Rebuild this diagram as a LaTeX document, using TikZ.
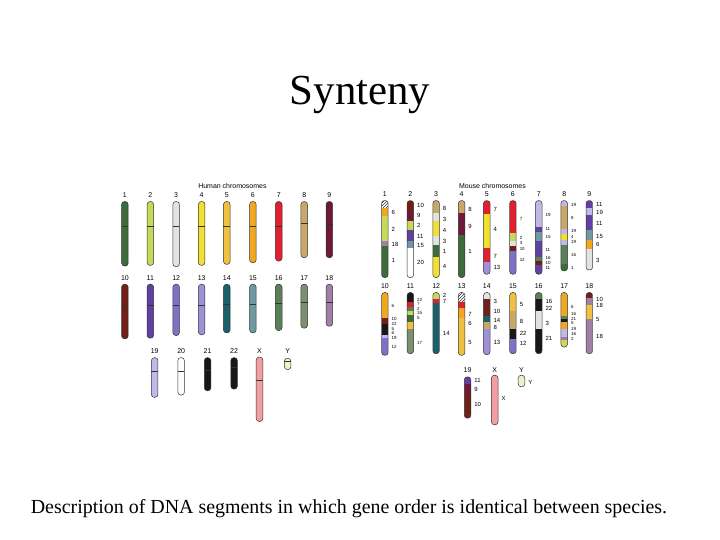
\documentclass[tikz,border=0pt]{standalone}
\usepackage{fontspec}
\setmainfont{Liberation Serif}
\newfontfamily\labfont{Liberation Sans}
\usetikzlibrary{patterns}
\definecolor{c1}{HTML}{3D6B3A}\definecolor{c2}{HTML}{C8D85A}\definecolor{c3}{HTML}{E0E4E0}
\definecolor{c4}{HTML}{F2E030}\definecolor{c5}{HTML}{F0C040}\definecolor{c6}{HTML}{F0A820}
\definecolor{c7}{HTML}{E02030}\definecolor{c8}{HTML}{C8A868}\definecolor{c9}{HTML}{70183A}
\definecolor{c10}{HTML}{702018}\definecolor{c11}{HTML}{6040A0}\definecolor{c12}{HTML}{8070C8}
\definecolor{c13}{HTML}{A090D8}\definecolor{c14}{HTML}{1A6068}\definecolor{c15}{HTML}{7098A0}
\definecolor{c16}{HTML}{5A8058}\definecolor{c17}{HTML}{7A9070}\definecolor{c18}{HTML}{A080A8}
\definecolor{c19}{HTML}{C0B8E8}\definecolor{c20}{HTML}{FFFFFF}\definecolor{c21}{HTML}{181818}
\definecolor{cX}{HTML}{F0A0A0}\definecolor{cY}{HTML}{F0F0C8}
\def\lsz{6}
\tikzset{lab/.style={font=\labfont\fontsize{\lsz}{\lsz}\selectfont,inner sep=0pt,anchor=west},
 num/.style={font=\labfont\fontsize{7}{8}\selectfont,inner sep=0pt},
 outl/.style={rounded corners=3pt,draw=black!80,line width=0.5pt},
 hat/.style={pattern=north east lines}}
\newcommand\hchr[5]{%
 \filldraw[outl,fill=#5] ({#1-10},#2) rectangle ({#1+10},#3);
 \draw[black!80,line width=0.9pt] ({#1-10},#4) -- ({#1+10},#4);}
\newcommand\mchr[5]{%
 \begin{scope}
 \clip[rounded corners=3pt] ({#1-10},#2) rectangle ({#1+10},#3);
 \fill[white] ({#1-10},#2) rectangle ({#1+10},#3);
 \foreach \a/\b/\c in {#4} \fill[\c] ({#1-10},\a) rectangle ({#1+10},\b);
 \end{scope}
 \draw[outl] ({#1-10},#2) rectangle ({#1+10},#3);
 \foreach \y/\t in {#5} \node[lab] at ({#1+20},\y) {\t};}
\begin{document}
\begin{tikzpicture}[x=1bp,y=-1bp]
\useasboundingbox (0,0) rectangle (720,540);
\node[font=\fontsize{43}{48}\selectfont] (title) at (360,95) {Synteny};
\node[font=\fontsize{20}{24}\selectfont] (cap) at (349,509) {Description of DNA segments in which gene order is identical between species.};
% Human
\begin{scope}[shift={(110,180)},x=1/3bp,y=-1/3bp]
\node[num] at (370,17) {Human chromosomes};
\foreach \x/\n/\e/\c/\k in {45/1/260/140/c1,122/2/258/140/c2,200/3/262/140/c3,277/4/258/140/c4,353/5/255/140/c5,432/6/250/140/c6,510/7/245/140/c7,587/8/235/130/c8,663/9/235/135/c9}{
 \node[num] at (\x,45) {\n}; \hchr{\x}{65}{\e}{\c}{\k}}
\foreach \x/\n/\e/\c/\k in {45/10/480/383/c10,122/11/478/380/c11,200/12/470/378/c12,277/13/468/378/c13,353/14/462/375/c14,432/15/462/375/c15,510/16/455/372/c16,587/17/448/370/c17,663/18/442/370/c18}{
 \node[num] at (\x,297) {\n}; \hchr{\x}{315}{\e}{\c}{\k}}
\foreach \x/\n/\t/\e/\c/\k in {135/19/537/657/580/c19,215/20/537/650/580/c20,295/21/537/637/575/c21,375/22/537/632/568/c21,452/X/535/730/607/cX,537/Y/539/573/548/cY}{
 \node[num] at (\x,517) {\n}; \hchr{\x}{\t}{\e}{\c}{\k}}
\end{scope}
% Mouse
\begin{scope}[shift={(370,180)},x=1/3bp,y=-1/3bp]
\node[num] at (370,17) {Mouse chromosomes};
\foreach \x/\n in {45/1,122/2,200/3,277/4,353/5,432/6,510/7,587/8,663/9}{\node[num] at (\x,42) {\n};}
\foreach \x/\n in {45/10,122/11,200/12,277/13,353/14,432/15,510/16,587/17,663/18}{\node[num] at (\x,322) {\n};}
\foreach \x/\n in {295/19,377/X,458/Y}{\node[num] at (\x,575) {\n};}
\mchr{45}{62}{295}{62/85/hat,85/108/c6,108/185/c2,185/200/c18,200/295/c1}{97/6,148/2,195/18,243/1}
\mchr{122}{62}{295}{62/95/c10,95/125/c9,125/150/c2,150/185/c11,185/205/c15,205/295/c20}{77/10,107/9,137/2,172/11,198/15,250/20}
\mchr{200}{62}{295}{62/100/c8,100/125/c3,125/170/c4,170/195/c3,195/232/c1,232/295/c4}{87/8,120/3,152/4,185/3,215/1,262/4}
\mchr{277}{62}{295}{62/100/c8,100/165/c9,165/295/c1}{90/8,140/9,215/1}
\mchr{353}{62}{285}{62/102/c7,102/205/c4,205/248/c7,248/285/c13}{90/7,150/4,230/7,265/13}
\def\lsz{4.5}
\mchr{432}{62}{285}{62/160/c7,160/185/c2,185/200/c3,200/215/c10,215/285/c12}{117/7,175/2,190/3,207/10,243/12}
\mchr{510}{62}{285}{62/142/c19,142/158/c11,158/185/c15,185/232/c11,232/245/c16,245/258/c10,258/285/c11}{105/19,148/11,172/15,210/11,237/16,252/10,267/11}
\mchr{587}{62}{275}{62/78/c19,78/148/c8,148/162/c19,162/180/c4,180/197/c19,197/255/c16,255/275/c1}{75/19,115/8,155/19,171/4,188/19,227/16,265/1}
\def\lsz{6}
\mchr{663}{62}{272}{62/85/c11,85/105/c19,105/152/c11,152/180/c15,180/210/c6,210/272/c3}{75/11,97/19,130/11,170/15,195/6,243/3}
\def\lsz{4.5}
\mchr{45}{340}{530}{340/418/c6,418/435/c10,435/468/c21,468/478/c19,478/530/c12}{380/6,420/10,435/22,449/5,463/6,478/19,506/12}
\mchr{122}{340}{525}{340/368/c21,368/383/c7,383/396/c16,396/408/c2,408/428/c1,428/450/c5,450/525/c17}{361/22,375/7,389/2,403/15,417/5,493/17}
\def\lsz{6}
\mchr{200}{340}{525}{340/360/c2,360/372/c7,372/525/c14}{348/2,366/7,465/14}
\mchr{277}{340}{530}{340/368/hat,368/388/c7,388/418/c6,418/530/c5}{405/7,433/6,492/5}
\mchr{353}{340}{528}{340/360/c3,360/410/c10,410/430/c14,430/450/c8,450/528/c13}{367/3,398/10,425/14,447/8,490/13}
\mchr{432}{340}{525}{340/395/c5,395/450/c8,450/480/c21,480/525/c12}{377/5,428/8,463/22,495/12}
\mchr{510}{340}{525}{340/360/c16,360/395/c21,395/450/c3,450/525/c21}{367/16,388/22,435/3,480/21}
\def\lsz{4.5}
\mchr{587}{340}{505}{340/410/c6,410/420/c16,420/428/c21,428/450/c6,450/475/c19,475/485/c18,485/505/c2}{383/6,405/16,419/21,433/5,451/19,466/16,481/2}
\def\lsz{6}
\mchr{663}{340}{525}{340/358/c10,358/378/c18,378/420/c5,420/525/c18}{360/10,380/18,423/5,473/18}
\mchr{295}{595}{720}{595/618/c11,618/648/c9,648/720/c10}{607/11,634/9,678/10}
\mchr{377}{590}{740}{590/740/cX}{660/X}
\mchr{458}{590}{625}{590/625/cY}{612/Y}
\end{scope}
\end{tikzpicture}
\end{document}
